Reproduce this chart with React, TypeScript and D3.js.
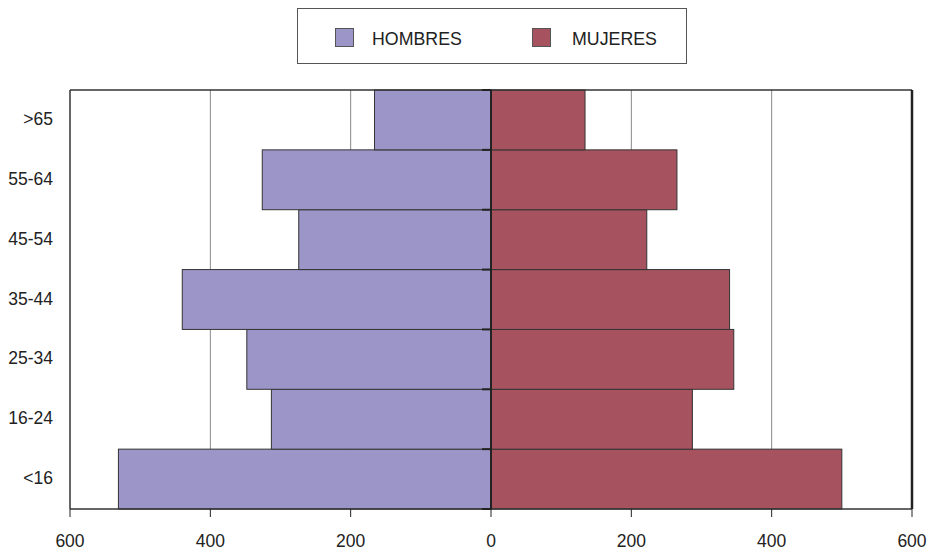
import React from "react";
import * as d3 from "d3";

const categories = ["<16", "16-24", "25-34", "35-44", "45-54", "55-64", ">65"];
const hombres = [531, 313, 348, 440, 274, 326, 166];
const mujeres = [500, 287, 346, 340, 222, 265, 134];
const xTicks = [-600, -400, -200, 0, 200, 400, 600];
const gridTicks = [-400, -200, 200, 400];

const W = 929;
const H = 550;
const margin = { left: 70, right: 17, top: 90, bottom: 41 };
const MEN = "#9c96c8";
const WOMEN = "#a6535f";
const FONT = "'Liberation Sans', Arial, sans-serif";

export default function App() {
  const x = d3
    .scaleLinear()
    .domain([-600, 600])
    .range([margin.left, W - margin.right]);

  const y = d3
    .scaleBand()
    .domain([...categories].reverse())
    .range([margin.top, H - margin.bottom])
    .padding(0);

  const x0 = x(0);
  const bottom = H - margin.bottom;
  const bw = y.bandwidth();

  return (
    <svg width={W} height={H} style={{ position: "absolute", left: 0, top: 0, fontFamily: FONT }}>
      <rect x={0} y={0} width={W} height={H} fill="#fff" />

      {/* Legend */}
      <rect x={297.5} y={8.5} width={389} height={55} fill="#fff" stroke="#555" strokeWidth={1} />
      <rect x={335.5} y={28.5} width={18} height={18} fill={MEN} stroke="#555" />
      <text x={372} y={44.5} fontSize={17.8} fill="#222">HOMBRES</text>
      <rect x={532.5} y={28.5} width={18} height={18} fill={WOMEN} stroke="#555" />
      <text x={572} y={44.5} fontSize={17.8} fill="#222">MUJERES</text>

      {/* Grid lines */}
      {gridTicks.map((t) => (
        <line key={t} x1={x(t)} x2={x(t)} y1={margin.top} y2={bottom} stroke="#888" strokeWidth={1} />
      ))}

      {/* Bars */}
      {categories.map((c, i) => (
        <g key={c}>
          <rect
            x={x(-hombres[i])}
            y={y(c)}
            width={x0 - x(-hombres[i])}
            height={bw}
            fill={MEN}
            stroke="#333"
            strokeWidth={1}
          />
          <rect
            x={x0}
            y={y(c)}
            width={x(mujeres[i]) - x0}
            height={bw}
            fill={WOMEN}
            stroke="#333"
            strokeWidth={1}
          />
        </g>
      ))}

      {/* Frame */}
      <line x1={margin.left} x2={margin.left} y1={margin.top} y2={bottom} stroke="#333" strokeWidth={1.5} />
      <line x1={margin.left} x2={W - margin.right} y1={margin.top} y2={margin.top} stroke="#333" strokeWidth={1.5} />
      <line x1={margin.left} x2={W - margin.right} y1={bottom} y2={bottom} stroke="#333" strokeWidth={1.5} />
      <line x1={W - margin.right} x2={W - margin.right} y1={margin.top} y2={bottom} stroke="#222" strokeWidth={2.5} />

      {/* Center axis with ticks */}
      <line x1={x0} x2={x0} y1={margin.top} y2={bottom} stroke="#222" strokeWidth={2} />
      {categories.map((c) => (
        <line key={c} x1={x0 - 9} x2={x0} y1={(y(c) ?? 0) + bw} y2={(y(c) ?? 0) + bw} stroke="#222" strokeWidth={2} />
      ))}
      <line x1={x0 - 9} x2={x0} y1={margin.top} y2={margin.top} stroke="#222" strokeWidth={2} />

      {/* Category labels */}
      {categories.map((c) => (
        <text
          key={c}
          x={53}
          y={(y(c) ?? 0) + bw / 2 - 1}
          textAnchor="end"
          dominantBaseline="central"
          fontSize={17.5}
          fill="#222"
        >
          {c}
        </text>
      ))}

      {/* X axis ticks and labels */}
      {xTicks.map((t) => (
        <g key={t}>
          <line x1={x(t)} x2={x(t)} y1={bottom} y2={bottom + 8} stroke="#222" strokeWidth={1} />
          <text x={x(t)} y={547} textAnchor="middle" fontSize={17.5} fill="#222">
            {Math.abs(t)}
          </text>
        </g>
      ))}
    </svg>
  );
}
